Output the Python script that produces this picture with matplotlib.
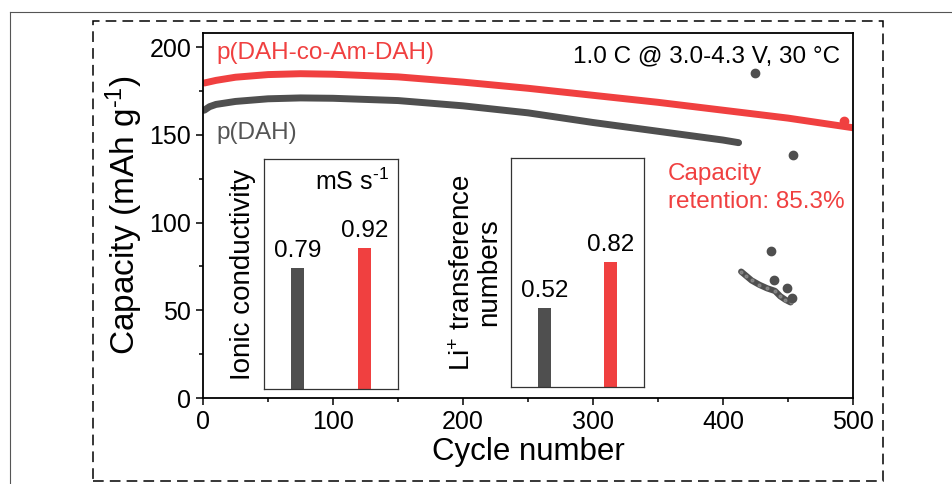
import numpy as np
import matplotlib
matplotlib.use("Agg")
import matplotlib.pyplot as plt
from matplotlib.patches import Rectangle
from matplotlib.lines import Line2D
from matplotlib.ticker import MultipleLocator

plt.rcParams['font.family'] = ['Liberation Sans', 'DejaVu Sans']
plt.rcParams['mathtext.fontset'] = 'custom'
plt.rcParams['mathtext.rm'] = 'Liberation Sans'
plt.rcParams['mathtext.default'] = 'regular'

# --- data ---
red_cycle = [1, 10, 25, 50, 75, 100, 150, 200, 250, 300, 350, 400, 450, 500]
red_cap = [179.5, 181, 182.8, 184.3, 184.8, 184.5, 183, 180, 176.5, 172.5, 168.5, 164, 159.5, 154]

gray_cycle = [1, 5, 10, 25, 50, 75, 100, 150, 200, 250, 300, 350, 400, 412]
gray_cap = [164, 166, 167.3, 169, 170.5, 171, 170.8, 169.5, 166.5, 162.5, 157, 152, 147, 145.5]

# failed-cell tail of p(DAH)
tail_cycle = [414, 418, 422, 428, 434, 440, 444, 448, 452]
tail_cap = [72, 69.5, 67, 64.5, 62.5, 61, 58, 56, 54.5]
gray_out_cycle = [425, 437, 439, 449, 453, 454]
gray_out_cap = [185, 83.5, 67.5, 62.5, 57, 138.5]
red_out_cycle = [493]
red_out_cap = [158]

bar_names = ['p(DAH)', 'p(DAH-co-Am-DAH)']
ionic = [0.79, 0.92]
transf = [0.52, 0.82]

RED = '#F04040'
GRAY = '#4F4F4F'

fig = plt.figure(figsize=(9.53, 4.84), dpi=100)
W, H = 953, 484

# outer frame bits and dashed box
fig.add_artist(Line2D([10 / W, 10 / W], [0, 1 - 12 / H], color='#555555', lw=0.8))
fig.add_artist(Line2D([10 / W, 1], [1 - 12 / H, 1 - 12 / H], color='#555555', lw=0.8))
fig.add_artist(Rectangle((93 / W, 1 - 481 / H), (883 - 93) / W, (481 - 21) / H,
                         fill=False, ec='black', lw=1.1, ls=(0, (7, 4))))

ax = fig.add_axes([203 / W, 1 - 398 / H, 650 / W, 365 / H])
ax.plot(red_cycle, red_cap, color=RED, lw=5, solid_capstyle='round')
ax.plot(gray_cycle, gray_cap, color=GRAY, lw=5, solid_capstyle='round')
ax.plot(tail_cycle, tail_cap, color=GRAY, lw=4.5, solid_capstyle='round')
ax.plot(tail_cycle, tail_cap, 'o', color='#999999', ms=2, alpha=0.6)
ax.scatter(gray_out_cycle, gray_out_cap, s=36, color=GRAY, zorder=3)
ax.scatter(red_out_cycle, red_out_cap, s=36, color=RED, zorder=3)

ax.set_xlim(0, 500)
ax.set_ylim(0, 208)
ax.xaxis.set_major_locator(MultipleLocator(100))
ax.xaxis.set_minor_locator(MultipleLocator(50))
ax.yaxis.set_major_locator(MultipleLocator(50))
ax.yaxis.set_minor_locator(MultipleLocator(25))
ax.tick_params(which='both', direction='out', width=1.1, labelsize=18)
ax.tick_params(which='major', length=5)
ax.tick_params(which='minor', length=3)
for s in ax.spines.values():
    s.set_linewidth(1.3)
ax.set_xlabel('Cycle number', fontsize=22.5, labelpad=2)
ax.set_ylabel(r'Capacity (mAh g$^{\text{-}1}$)', fontsize=24, labelpad=3)

ax.text(0.021, 0.975, 'p(DAH-co-Am-DAH)', transform=ax.transAxes, color=RED,
        fontsize=17.5, va='top', ha='left')
ax.text(0.021, 0.755, 'p(DAH)', transform=ax.transAxes, color='#555555',
        fontsize=17.5, va='top', ha='left')
ax.text(0.98, 0.965, '1.0 C @ 3.0-4.3 V, 30 °C', transform=ax.transAxes,
        fontsize=17.5, va='top', ha='right')
ax.text(0.715, 0.645, 'Capacity\nretention: 85.3%', transform=ax.transAxes,
        color=RED, fontsize=17.5, va='top', ha='left', linespacing=1.35)

# insets
def inset(rect, vals, label):
    a = fig.add_axes(rect)
    a.bar([0, 1], vals, width=0.2, color=[GRAY, RED])
    a.set_xlim(-0.5, 1.5)
    a.set_ylim(0, 1.5)
    a.set_xticks([])
    a.set_yticks([])
    for s in a.spines.values():
        s.set_linewidth(0.9)
        s.set_color('#333333')
    for i, v in enumerate(vals):
        a.text(i, v + 0.04, f'{v:.2f}', ha='center', va='bottom', fontsize=17.5)
    a.set_ylabel(label, fontsize=20, labelpad=6, linespacing=1.05)
    return a

a1 = inset([264 / W, 1 - 389 / H, 134 / W, 230 / H], ionic, 'Ionic conductivity')
a1.text(0.93, 0.96, r'mS s$^{\text{-}1}$', transform=a1.transAxes, ha='right', va='top', fontsize=18)
a2 = inset([511 / W, 1 - 387 / H, 133 / W, 229 / H], transf,
           'Li$^{+}$ transference\nnumbers')

fig.savefig('out.png', dpi=100)
